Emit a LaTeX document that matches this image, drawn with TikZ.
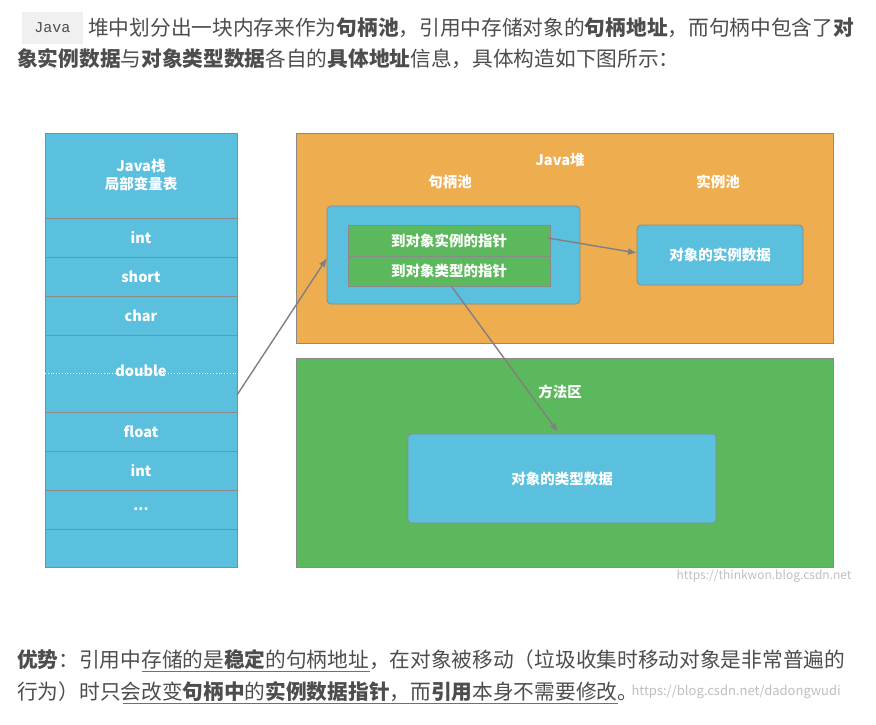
\documentclass[tikz,border=0pt]{standalone}
\usepackage{fontspec}
\setmainfont{Noto Sans CJK SC}
\newfontfamily\cjk{Noto Sans CJK SC}
\newfontfamily\codefont{Liberation Mono}
\definecolor{txt}{HTML}{4D4D4D}
\definecolor{bl}{HTML}{5BBFDE}
\definecolor{og}{HTML}{EEAD4F}
\definecolor{gr}{HTML}{5CB85C}
\definecolor{bd}{HTML}{8A8A8A}
\definecolor{ar}{HTML}{808080}
\tikzset{
 para/.style={anchor=west,inner sep=0,text=txt,font=\cjk\fontsize{20.7}{24}\selectfont},
 lbl/.style={text=white,font=\cjk\bfseries\fontsize{14.5}{17.5}\selectfont,align=center},
 cell/.style={draw=bd,fill=bl,line width=0.8pt},
 conn/.style={draw=ar,line width=1.4pt,-{Latex[length=9pt,width=7pt]}},
}
\usetikzlibrary{arrows.meta}
\begin{document}
\begin{tikzpicture}[x=1pt,y=-1pt]
\useasboundingbox (0,0) rectangle (876,724);
\fill[white] (0,0) rectangle (876,724);
% top text
\fill[black!6] (22,12) rectangle (83,44);
\node[anchor=center,text=txt,font=\codefont\fontsize{15}{18}\selectfont] (java) at (52.5,28) {Java};
\node[para] (l1) at (88,28) {堆中划分出一块内存来作为\textbf{句柄池}，引用中存储对象的\textbf{句柄地址}，而句柄中包含了\textbf{对}};
\node[para] (l2) at (17,59) {\textbf{象实例数据}与\textbf{对象类型数据}各自的\textbf{具体地址}信息，具体构造如下图所示：};
% stack
\foreach \a/\b in {133/218,218/257,257/296,296/335,335/412,412/451,451/490,490/529,529/567}
 \draw[cell] (45,\a) rectangle (237,\b);
\draw[white,dotted,line width=0.8pt] (45,373) -- (237,373);
\node[lbl] (st) at (141,175) {Java栈\\局部变量表};
\node[lbl] (s1) at (141,237.5) {int};
\node[lbl] (s2) at (141,276.5) {short};
\node[lbl] (s3) at (141,315.5) {char};
\node[lbl] (s4) at (141,371) {double};
\node[lbl] (s5) at (141,431.5) {float};
\node[lbl] (s6) at (141,470.5) {int};
\node[lbl] (s7) at (141,509.5) {...};
\coordinate (sd) at (237,395);
% heap
\draw[draw=bd,fill=og,line width=0.8pt] (296,133) rectangle (833,343);
\node[lbl] (heap) at (560,160) {Java堆};
\node[lbl] (hp) at (450,182) {句柄池};
\node[lbl] (ip) at (718,182) {实例池};
\draw[draw=bd,fill=bl,line width=0.8pt,rounded corners=4pt] (327,206) rectangle (580,304);
\coordinate (hpl) at (327,258);
\draw[draw=bd,fill=gr,line width=0.8pt] (348,225) rectangle (550,256);
\draw[draw=bd,fill=gr,line width=0.8pt] (348,256) rectangle (550,286);
\node[lbl] (p1) at (449,240.5) {到对象实例的指针};
\node[lbl] (p2) at (449,271) {到对象类型的指针};
\draw[draw=bd,fill=bl,line width=0.8pt,rounded corners=4pt] (637,225) rectangle (803,285);
\node[lbl] (inst) at (720,255) {对象的实例数据};
% method area
\draw[draw=bd,fill=gr,line width=0.8pt] (296,358) rectangle (833,567);
\node[lbl] (ma) at (560,392) {方法区};
\draw[draw=bd,fill=bl,line width=0.8pt,rounded corners=3pt] (408,434) rectangle (716,523);
\node[lbl] (type) at (562,478.5) {对象的类型数据};
\node[anchor=east,text=black!25,font=\fontsize{12}{14}\selectfont] (wm1) at (855,576) {https://thinkwon.blog.csdn.net};
% arrows
\coordinate (ie) at (637,253);
\draw[conn] (sd) -- (hpl);
\draw[conn] (548,238) -- (ie);
\draw[conn] (452,287) -- (558,432);
% bottom text
\node[para] (b1) at (17,660) {\textbf{优势}：引用中存储的是\textbf{稳定}的句柄地址，在对象被移动（垃圾收集时移动对象是非常普遍的};
\node[para] (b2) at (17,692) {行为）时只会改变\textbf{句柄中}的\textbf{实例数据指针}，而\textbf{引用}本身不需要修改。};
\draw[red!80,line width=1pt] (142,671) -- (370,671);
\draw[red!80,line width=1pt] (123,703) -- (618,703);
\node[anchor=west,text=black!25,font=\fontsize{13}{15}\selectfont] (wm2) at (628,692) {https://blog.csdn.net/dadongwudi};
\end{tikzpicture}
\end{document}
